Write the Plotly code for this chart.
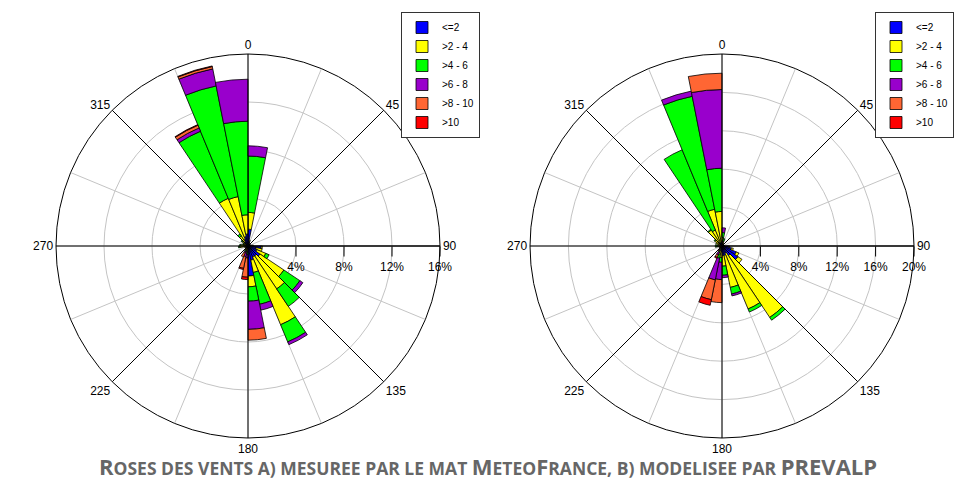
import plotly.graph_objects as go

# Direction sectors: 32 bins of 11.25 degrees, bar centred in each bin
SECTOR_WIDTH = 11.25
DIRECTIONS = [5.625, 16.875, 28.125, 39.375, 50.625, 61.875, 73.125, 84.375,
              95.625, 106.875, 118.125, 129.375, 140.625, 151.875, 163.125, 174.375,
              185.625, 196.875, 208.125, 219.375, 230.625, 241.875, 253.125, 264.375,
              275.625, 286.875, 298.125, 309.375, 320.625, 331.875, 343.125, 354.375]

SPEED_CLASSES = ["&lt;=2", "&gt;2 - 4", "&gt;4 - 6", "&gt;6 - 8", "&gt;8 - 10", "&gt;10"]
CLASS_COLORS = ["#0000FF", "#FFFF00", "#00FF00", "#9900CC", "#FF6633", "#FF0000"]

# a) measured at the MeteoFrance mast - frequency (%) per sector and speed class
MES_LE2 = [1.4, 0.4, 0.25, 0.2, 0.2, 0.2, 0.25, 0.4, 1.1, 0.7, 0.8, 1.2, 1.0, 1.0, 1.2, 2.5,
           0.3, 0.2, 0.2, 0.15, 0.15, 0.15, 0.2, 0.3, 0.3, 0.2, 0.2, 0.3, 0.4, 0.6, 0.8, 1.0]
MES_2_4 = [1.4, 0.1, 0.05, 0.0, 0.0, 0.0, 0.0, 0.05, 0.1, 0.5, 0.8, 2.4, 3.3, 6.1, 1.05, 0.9,
           0.2, 0.2, 0.2, 0.1, 0.1, 0.1, 0.1, 0.4, 0.3, 0.2, 0.2, 0.3, 0.6, 3.7, 3.4, 1.6]
MES_4_6 = [4.7, 0.0, 0.0, 0.0, 0.0, 0.0, 0.0, 0.0, 0.0, 0.0, 0.3, 1.6, 1.75, 1.55, 2.7, 1.2,
           0.2, 0.1, 0.1, 0.0, 0.0, 0.0, 0.0, 0.1, 0.1, 0.05, 0.05, 0.1, 0.2, 6.05, 9.4, 7.8]
MES_6_8 = [0.85, 0.0, 0.0, 0.0, 0.0, 0.0, 0.0, 0.0, 0.0, 0.0, 0.0, 0.3, 0.0, 0.25, 0.5, 2.35,
           0.3, 0.4, 0.1, 0.0, 0.0, 0.0, 0.0, 0.0, 0.0, 0.0, 0.0, 0.0, 0.0, 0.3, 1.45, 3.5]
MES_8_10 = [0.0, 0.0, 0.0, 0.0, 0.0, 0.0, 0.0, 0.0, 0.0, 0.0, 0.0, 0.0, 0.0, 0.0, 0.0, 0.9,
            1.6, 1.0, 0.4, 0.1, 0.0, 0.0, 0.0, 0.0, 0.0, 0.0, 0.0, 0.0, 0.0, 0.25, 0.2, 0.0]
MES_GT10 = [0.0, 0.0, 0.0, 0.0, 0.0, 0.0, 0.0, 0.0, 0.0, 0.0, 0.0, 0.0, 0.0, 0.0, 0.0, 0.0,
            0.2, 0.1, 0.0, 0.0, 0.0, 0.0, 0.0, 0.0, 0.0, 0.0, 0.0, 0.0, 0.0, 0.05, 0.05, 0.0]

# b) modelled by PREVALP
MOD_LE2 = [0.5, 0.3, 0.2, 0.2, 0.2, 0.2, 0.2, 0.3, 0.7, 1.0, 1.6, 2.0, 1.2, 0.8, 1.0, 1.0,
           0.6, 0.5, 0.3, 0.2, 0.2, 0.2, 0.2, 0.3, 0.3, 0.2, 0.3, 0.3, 0.5, 0.4, 0.4, 0.5]
MOD_2_4 = [0.4, 0.2, 0.1, 0.05, 0.0, 0.0, 0.0, 0.0, 0.1, 0.2, 0.3, 0.5, 7.75, 6.3, 3.4, 1.1,
           0.6, 0.4, 0.2, 0.1, 0.1, 0.1, 0.1, 0.2, 0.2, 0.2, 0.4, 0.6, 1.5, 1.4, 3.5, 3.1]
MOD_4_6 = [0.5, 0.3, 0.0, 0.0, 0.0, 0.0, 0.0, 0.0, 0.0, 0.0, 0.0, 0.0, 0.35, 0.35, 0.7, 0.95,
           0.5, 0.4, 0.2, 0.1, 0.0, 0.0, 0.0, 0.2, 0.2, 0.0, 0.0, 0.1, 0.1, 9.05, 12.0, 4.5]
MOD_6_8 = [0.5, 0.0, 0.0, 0.0, 0.0, 0.0, 0.0, 0.0, 0.0, 0.0, 0.0, 0.0, 0.0, 0.0, 0.2, 0.25,
           1.8, 2.3, 0.3, 0.1, 0.0, 0.0, 0.0, 0.0, 0.0, 0.0, 0.0, 0.0, 0.0, 0.0, 0.55, 8.2]
MOD_8_10 = [0.0, 0.0, 0.0, 0.0, 0.0, 0.0, 0.0, 0.0, 0.0, 0.0, 0.0, 0.0, 0.0, 0.0, 0.0, 0.0,
            2.4, 2.1, 0.3, 0.1, 0.0, 0.0, 0.0, 0.0, 0.0, 0.0, 0.0, 0.0, 0.0, 0.0, 0.0, 1.7]
MOD_GT10 = [0.0, 0.0, 0.0, 0.0, 0.0, 0.0, 0.0, 0.0, 0.0, 0.0, 0.0, 0.0, 0.0, 0.0, 0.0, 0.0,
            0.0, 0.6, 0.1, 0.0, 0.0, 0.0, 0.0, 0.0, 0.0, 0.0, 0.0, 0.0, 0.0, 0.0, 0.0, 0.0]

MES_SERIES = [MES_LE2, MES_2_4, MES_4_6, MES_6_8, MES_8_10, MES_GT10]
MOD_SERIES = [MOD_LE2, MOD_2_4, MOD_4_6, MOD_6_8, MOD_8_10, MOD_GT10]

# Axis decoration
GRID_ANGLES = [0, 22.5, 45, 67.5, 90, 112.5, 135, 157.5, 180, 202.5, 225, 247.5,
               270, 292.5, 315, 337.5]
GRID_LABELS = ["0", "", "45", "", "90", "", "135", "", "180", "", "225", "",
               "270", "", "315", ""]
MAIN_SPOKES = [0, 45, 90, 135, 180, 225, 270, 315]
MES_RTICKS = [4, 8, 12, 16]
MOD_RTICKS = [4, 8, 12, 16, 20]

W, H = 954, 482
RADIUS = 192
CENTER_Y = 246
TICK_FONT = dict(family="Liberation Sans, Arial, sans-serif", size=12, color="black")

fig = go.Figure()


def add_rose(series, subplot, legend, rmax):
    # black main spokes every 45 degrees
    r_sp, t_sp = [], []
    for a in MAIN_SPOKES:
        r_sp += [0, rmax, None]
        t_sp += [a, a, None]
    fig.add_trace(go.Scatterpolar(r=r_sp, theta=t_sp, mode="lines",
                                  line=dict(color="black", width=1),
                                  subplot=subplot, showlegend=False, hoverinfo="skip"))
    for name, color, vals in zip(SPEED_CLASSES, CLASS_COLORS, series):
        fig.add_trace(go.Barpolar(r=vals, theta=DIRECTIONS, width=SECTOR_WIDTH,
                                  name=name, subplot=subplot, legend=legend,
                                  marker=dict(color=color,
                                              line=dict(color="black", width=0.8))))


add_rose(MES_SERIES, "polar", "legend", 16)
add_rose(MOD_SERIES, "polar2", "legend2", 20)


def polar_layout(cx, cy, rmax, rticks):
    return dict(
        domain=dict(x=[(cx - RADIUS) / W, (cx + RADIUS) / W],
                    y=[(H - cy - RADIUS) / H, (H - cy + RADIUS) / H]),
        bgcolor="white",
        barmode="stack",
        angularaxis=dict(rotation=90, direction="clockwise", tickmode="array",
                         tickvals=GRID_ANGLES, ticktext=GRID_LABELS, ticks="",
                         showgrid=True, gridcolor="#c4c4c4", gridwidth=1,
                         showline=True, linecolor="black", linewidth=1,
                         tickfont=TICK_FONT),
        radialaxis=dict(range=[0, rmax], tickmode="array", tickvals=rticks,
                        ticktext=[f"{v}%" for v in rticks], angle=0, side="clockwise",
                        showline=True, linecolor="black", linewidth=1,
                        ticks="outside", ticklen=10, tickcolor="black",
                        showgrid=True, gridcolor="#c4c4c4", gridwidth=1,
                        tickfont=TICK_FONT),
    )


def legend_layout(x_px):
    return dict(x=x_px / W, y=1 - 12 / H, xanchor="left", yanchor="top",
                bgcolor="white", bordercolor="#333333", borderwidth=1,
                font=dict(family="Liberation Sans, Arial, sans-serif", size=10, color="black"),
                tracegroupgap=0, itemwidth=30)


BIG = "font-size:22px"
SMALL = "font-size:17.5px"
title = (f"<b><span style='{BIG}'>R</span><span style='{SMALL}'>OSES DES VENTS A) MESUREE PAR LE MAT </span>"
         f"<span style='{BIG}'>M</span><span style='{SMALL}'>ETEO</span>"
         f"<span style='{BIG}'>F</span><span style='{SMALL}'>RANCE, B) MODELISEE PAR </span>"
         f"<span style='{BIG}'>PREVALP</span></b>")

fig.update_layout(
    width=W, height=H,
    margin=dict(l=0, r=0, t=0, b=0),
    paper_bgcolor="white",
    polar=polar_layout(248, CENTER_Y, 16, MES_RTICKS),
    polar2=polar_layout(722, CENTER_Y, 20, MOD_RTICKS),
    legend=legend_layout(401),
    legend2=legend_layout(875),
    annotations=[dict(text=title, x=488 / W, y=(H - 466) / H, xref="paper", yref="paper",
                      xanchor="center", yanchor="middle", showarrow=False,
                      font=dict(family="Open Sans, Lato, sans-serif", color="#666666"))],
)

fig.write_html("out.html")
